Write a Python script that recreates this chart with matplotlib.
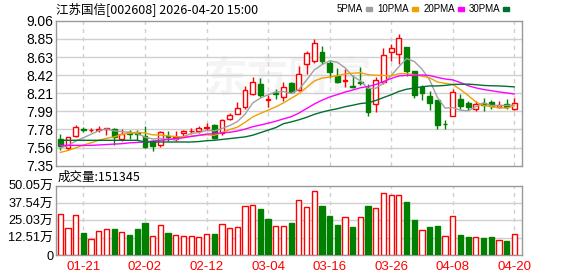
import numpy as np
import matplotlib.pyplot as plt
from matplotlib.patches import Rectangle

plt.rcParams['font.family'] = ['Liberation Sans', 'Noto Sans CJK SC', 'DejaVu Sans']

# --- datos (60 sesiones) ---
opens = [7.665, 7.555, 7.704, 7.787, 7.770, 7.767, 7.780, 7.780, 7.665, 7.750,
         7.740, 7.700, 7.640, 7.590, 7.700, 7.660, 7.740, 7.760, 7.760, 7.800,
         7.830, 7.732, 7.897, 7.956, 8.039, 8.196, 8.314, 8.130, 8.210, 8.165,
         8.330, 8.243, 8.552, 8.590, 8.688, 8.566, 8.410, 8.355, 8.290, 8.335,
         8.267, 8.074, 8.340, 8.688, 8.664, 8.747, 8.467, 8.280, 8.170, 8.125,
         7.845, 7.940, 8.140, 8.086, 8.015, 8.086, 8.100, 8.040, 8.080, 8.020]
closes = [7.582, 7.685, 7.803, 7.767, 7.773, 7.787, 7.790, 7.690, 7.724, 7.730,
          7.720, 7.570, 7.586, 7.748, 7.685, 7.690, 7.763, 7.765, 7.800, 7.810,
          7.673, 7.890, 7.947, 8.030, 8.243, 8.338, 8.188, 8.134, 8.195, 8.275,
          8.224, 8.428, 8.678, 8.794, 8.590, 8.452, 8.340, 8.360, 8.283, 8.330,
          7.990, 8.360, 8.657, 8.735, 8.853, 8.470, 8.190, 8.210, 8.085, 7.830,
          7.842, 8.216, 8.054, 8.047, 8.074, 8.070, 8.055, 8.066, 8.047, 8.086]
highs = [7.720, 7.690, 7.826, 7.810, 7.795, 7.818, 7.800, 7.790, 7.787, 7.770,
         7.770, 7.820, 7.650, 7.760, 7.760, 7.760, 7.770, 7.790, 7.820, 7.850,
         7.840, 7.898, 7.967, 8.105, 8.290, 8.400, 8.390, 8.180, 8.260, 8.337,
         8.340, 8.526, 8.706, 8.845, 8.760, 8.597, 8.500, 8.490, 8.420, 8.510,
         8.320, 8.400, 8.740, 8.786, 8.910, 8.755, 8.467, 8.300, 8.230, 8.125,
         7.890, 8.250, 8.200, 8.113, 8.117, 8.145, 8.125, 8.117, 8.140, 8.150]
lows = [7.535, 7.540, 7.690, 7.743, 7.750, 7.750, 7.710, 7.600, 7.640, 7.670,
        7.650, 7.560, 7.527, 7.570, 7.640, 7.640, 7.690, 7.720, 7.740, 7.770,
        7.665, 7.710, 7.890, 7.956, 8.020, 8.180, 8.157, 8.040, 8.140, 8.115,
        8.210, 8.227, 8.430, 8.566, 8.550, 8.390, 8.330, 8.280, 8.270, 8.300,
        7.940, 7.990, 8.320, 8.590, 8.550, 8.410, 8.153, 8.130, 8.007, 7.780,
        7.780, 7.940, 8.020, 8.007, 8.000, 8.000, 8.020, 8.030, 8.015, 8.007]

# volumen en 万
volumen = [29.8, 19.3, 28.6, 15.9, 11.3, 17.1, 18.5, 18.5, 16.6, 14.4,
           18.5, 23.1, 13.5, 21.4, 15.9, 14.2, 13.5, 13.5, 12.8, 14.9,
           15.2, 22.1, 19.3, 20.0, 35.1, 35.9, 33.2, 26.0, 20.7, 20.7,
           23.1, 39.5, 34.4, 46.0, 35.4, 28.2, 21.7, 27.2, 20.2, 27.2,
           35.4, 33.7, 44.5, 43.3, 43.3, 38.3, 25.3, 17.8, 20.2, 20.9,
           13.5, 28.2, 14.4, 13.0, 12.8, 12.3, 13.0, 10.6, 10.1, 15.13]
vol_sube = [1, 1, 1, 0, 1, 1, 1, 0, 1, 0, 0, 0, 1, 1, 0, 1, 1, 1, 1, 1,
            0, 1, 1, 1, 1, 1, 0, 0, 1, 1, 0, 1, 1, 1, 0, 0, 0, 1, 0, 1,
            0, 1, 1, 1, 1, 0, 0, 1, 0, 0, 1, 1, 0, 0, 1, 0, 0, 1, 0, 1]

ma5 = [7.56, 7.59, 7.64, 7.68, 7.722, 7.763, 7.784, 7.761, 7.753, 7.744,
       7.731, 7.687, 7.666, 7.671, 7.662, 7.656, 7.694, 7.730, 7.741, 7.766,
       7.762, 7.788, 7.824, 7.870, 7.957, 8.090, 8.149, 8.187, 8.220, 8.226,
       8.203, 8.251, 8.360, 8.480, 8.543, 8.588, 8.571, 8.507, 8.405, 8.353,
       8.261, 8.265, 8.324, 8.414, 8.519, 8.615, 8.581, 8.492, 8.362, 8.157,
       8.031, 8.037, 8.005, 7.998, 8.047, 8.092, 8.060, 8.062, 8.062, 8.065]
ma10 = [7.507, 7.53, 7.56, 7.594, 7.62, 7.65, 7.673, 7.69, 7.72, 7.733,
        7.747, 7.735, 7.714, 7.712, 7.703, 7.693, 7.691, 7.698, 7.706, 7.714,
        7.709, 7.741, 7.777, 7.805, 7.861, 7.926, 7.968, 8.005, 8.045, 8.091,
        8.146, 8.200, 8.273, 8.350, 8.384, 8.396, 8.411, 8.434, 8.442, 8.448,
        8.425, 8.418, 8.416, 8.410, 8.436, 8.438, 8.423, 8.408, 8.388, 8.338,
        8.323, 8.309, 8.249, 8.180, 8.102, 8.062, 8.048, 8.034, 8.030, 8.056]
ma20 = [7.59, 7.59, 7.59, 7.59, 7.59, 7.595, 7.60, 7.605, 7.61, 7.62,
        7.625, 7.63, 7.64, 7.65, 7.66, 7.67, 7.68, 7.695, 7.71, 7.723,
        7.728, 7.738, 7.745, 7.759, 7.782, 7.810, 7.830, 7.852, 7.875, 7.903,
        7.928, 7.971, 8.025, 8.078, 8.123, 8.161, 8.190, 8.219, 8.244, 8.270,
        8.285, 8.309, 8.344, 8.380, 8.410, 8.417, 8.417, 8.421, 8.415, 8.393,
        8.374, 8.363, 8.332, 8.295, 8.269, 8.250, 8.236, 8.221, 8.209, 8.197]
ma30 = [7.65, 7.65, 7.65, 7.65, 7.65, 7.65, 7.65, 7.65, 7.65, 7.65,
        7.65, 7.63, 7.63, 7.63, 7.63, 7.63, 7.63, 7.63, 7.635, 7.645,
        7.65, 7.66, 7.67, 7.68, 7.69, 7.71, 7.74, 7.77, 7.80, 7.846,
        7.867, 7.892, 7.921, 7.956, 7.983, 8.005, 8.023, 8.046, 8.064, 8.084,
        8.093, 8.120, 8.155, 8.188, 8.227, 8.253, 8.267, 8.282, 8.292, 8.292,
        8.298, 8.309, 8.312, 8.313, 8.307, 8.298, 8.294, 8.292, 8.287, 8.281]

fechas_idx = [3, 11, 19, 27, 35, 43, 51, 59]
fechas_txt = ['01-21', '02-02', '02-12', '03-04', '03-16', '03-26', '04-08', '04-20']

precio_ticks = [7.35, 7.56375, 7.7775, 7.99125, 8.205, 8.41875, 8.6325, 8.84625, 9.06]
precio_txt = ['7.35', '7.56', '7.78', '7.99', '8.21', '8.42', '8.63', '8.85', '9.06']
vol_ticks = [0, 12.5125, 25.025, 37.5375, 50.05]
vol_txt = ['0', '12.51万', '25.03万', '37.54万', '50.05万']

ROJO = '#ff0000'
VERDE = '#008000'
GRIS_BORDE = '#999999'
GRIS_REJILLA = '#d0d0d0'

fig = plt.figure(figsize=(5.78, 2.76), dpi=100)
ax = fig.add_axes([56 / 578, 1 - 165.7 / 276, 466 / 578, 144.8 / 276])
axv = fig.add_axes([56 / 578, 1 - 255 / 276, 466 / 578, 69.3 / 276])

x = np.arange(len(closes))
o = np.array(opens)
c = np.array(closes)
sube = c > o
col = np.where(sube, ROJO, VERDE)

# --- velas ---
ax.vlines(x, lows, highs, colors=col, linewidth=1, zorder=3)
ax.bar(x, np.abs(c - o), bottom=np.minimum(o, c), width=0.62,
       color=np.where(sube, 'white', VERDE), edgecolor=col, linewidth=1, zorder=4)

# medias moviles
ax.plot(x, ma5, color='#a0a0a0', lw=1, zorder=5)
ax.plot(x, ma10, color='#f0a000', lw=1, zorder=5)
ax.plot(x, ma20, color='#ff00ff', lw=1, zorder=5)
ax.plot(x, ma30, color='#006f30', lw=1, zorder=5)

ax.text(0.5, 0.6, '东方财富', transform=ax.transAxes, ha='center', va='center',
        fontsize=30, color='#f4f4f4', fontweight='bold', zorder=1,
        family=['Noto Sans CJK SC'])

# --- volumen ---
vcol = [ROJO if s else VERDE for s in vol_sube]
vface = ['white' if s else VERDE for s in vol_sube]
axv.bar(x, volumen, width=0.68, color=vface, edgecolor=vcol, linewidth=1, zorder=3)

for a in (ax, axv):
    a.set_xlim(-0.56, 60.0)
    for s in a.spines.values():
        s.set_color(GRIS_BORDE)
        s.set_linewidth(1)
    a.tick_params(length=0, labelsize=10, pad=2)
    for i in fechas_idx:
        a.axvline(i, color=GRIS_REJILLA, lw=1, ls=(0, (3, 3)), zorder=1)

ax.set_ylim(7.35, 9.06)
ax.set_yticks(precio_ticks)
ax.set_yticklabels(precio_txt)
ax.set_xticks([])
for t in precio_ticks[1:-1]:
    ax.axhline(t, color=GRIS_REJILLA, lw=1, zorder=1)

axv.set_ylim(0, 50.05)
axv.set_yticks(vol_ticks)
axv.set_yticklabels(vol_txt, fontsize=9.2)
for t in vol_ticks[1:-1]:
    axv.axhline(t, color=GRIS_REJILLA, lw=1, zorder=1)
axv.set_xticks(fechas_idx)
axv.set_xticklabels(fechas_txt, color=ROJO, fontsize=9.5)
axv.tick_params(axis='x', pad=4)

# titulo y leyenda
fig.text(56 / 578, 1 - 9 / 276, '江苏国信[002608] 2026-04-20 15:00',
         va='center', ha='left', fontsize=9, family=['Noto Sans CJK SC'])
leyenda = [('5PMA', '#a0a0a0', 363), ('10PMA', '#f0a000', 409),
           ('20PMA', '#ff00ff', 455), ('30PMA', '#006f30', 500)]
for txt, cc, px in leyenda:
    fig.text(px / 578, 1 - 8.5 / 276, txt, va='center', ha='right', fontsize=7)
    fig.patches.append(Rectangle(((px + 3) / 578, 1 - 10.5 / 276),
                                 6 / 578, 4 / 276, transform=fig.transFigure,
                                 color=cc, figure=fig))

fig.text(58 / 578, 1 - 177 / 276, '成交量:151345', va='center', ha='left',
         fontsize=9, family=['Noto Sans CJK SC'])

fig.savefig('out.png', dpi=100, facecolor='white')
